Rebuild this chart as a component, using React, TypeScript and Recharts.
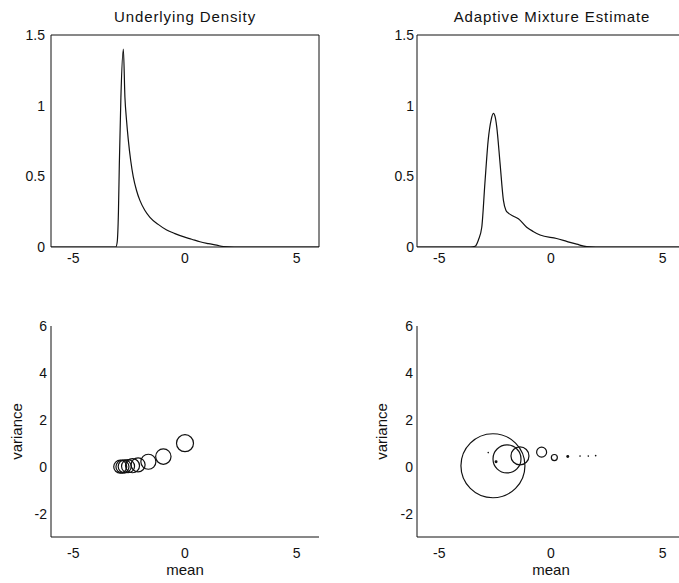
import {
  LineChart,
  Line,
  ScatterChart,
  Scatter,
  XAxis,
  YAxis,
  ZAxis,
  ReferenceArea,
  Label,
} from "recharts";

// curves
const densityX = [-6, -3.1, -3.04, -2.98, -2.94, -2.87, -2.76, -2.69, -2.62, -2.54, -2.43, -2.32, -2.17, -2.02, -1.8, -1.57, -1.2, -0.82, -0.45, -0.08, 0.3, 0.67, 1.05, 1.42, 1.72, 2.2, 6];
const densityY = [0, 0, 0.03, 0.25, 0.59, 1.06, 1.4, 1.06, 0.9, 0.76, 0.61, 0.5, 0.4, 0.33, 0.26, 0.21, 0.16, 0.12, 0.095, 0.073, 0.055, 0.037, 0.024, 0.013, 0.003, 0, 0];

const estimateX = [-6, -3.6, -3.4, -3.25, -3.1, -2.96, -2.81, -2.68, -2.58, -2.5, -2.43, -2.28, -2.13, -2.02, -1.91, -1.7, -1.46, -1.09, -0.8, -0.49, 0.25, 0.7, 1.15, 1.6, 2.0, 6];
const estimateY = [0, 0, 0.005, 0.05, 0.14, 0.45, 0.76, 0.9, 0.945, 0.92, 0.85, 0.59, 0.33, 0.26, 0.24, 0.22, 0.2, 0.14, 0.11, 0.085, 0.06, 0.04, 0.02, 0.002, 0, 0];

// mixture components: mean, variance, weight
const trueMeans = [-2.9, -2.8, -2.7, -2.55, -2.35, -2.1, -1.64, -0.97, 0];
const trueVariances = [0, 0, 0.01, 0.02, 0.04, 0.08, 0.21, 0.43, 1.0];
const trueWeights = [0.088, 0.088, 0.088, 0.088, 0.102, 0.102, 0.117, 0.123, 0.15];

const estMeans = [-2.6, -1.97, -1.39, -0.42, 0.15, 0.75, 1.3, 1.67, 2.0, -2.46, -2.81];
const estVariances = [0.04, 0.33, 0.46, 0.62, 0.39, 0.43, 0.45, 0.45, 0.47, 0.21, 0.6];
const estWeights = [0.75, 0.1436, 0.0593, 0.0183, 0.0066, 0.0016, 0.0005, 0.0005, 0.0005, 0.0016, 0.0003];

const xTicks = [-5, 0, 5];
const densityTicks = [0, 0.5, 1, 1.5];
const varianceTicks = [-2, 0, 2, 4, 6];

const densityData = densityX.map((x, i) => ({ x, y: densityY[i] }));
const estimateData = estimateX.map((x, i) => ({ x, y: estimateY[i] }));
const trueComponents = trueMeans.map((m, i) => ({ mean: m, variance: trueVariances[i], weight: trueWeights[i] }));
const estComponents = estMeans.map((m, i) => ({ mean: m, variance: estVariances[i], weight: estWeights[i] }));

const FONT = '"Liberation Sans", Arial, Helvetica, sans-serif';
const INK = "#111";
const tickStyle = { fontSize: 14, fill: INK, fontFamily: FONT };

function Ring(props: any) {
  const { cx, cy } = props;
  const r = props.width ? props.width / 2 : Math.sqrt((props.size || 0) / Math.PI);
  if (r < 1.6) {
    return <circle cx={cx} cy={cy} r={Math.max(r, 0.8)} fill={INK} stroke="none" />;
  }
  return <circle cx={cx} cy={cy} r={r} fill="none" stroke={INK} strokeWidth={1.2} />;
}

function DensityPanel({ data, left, yAxisWidth, width, tickMargin }: any) {
  return (
    <div style={{ position: "absolute", left, top: 0 }}>
      <LineChart width={width} height={290} data={data} margin={{ top: 35, right: 5, left: 0, bottom: 0 }}>
        <XAxis
          type="number"
          dataKey="x"
          domain={[-6, 6]}
          ticks={xTicks}
          tick={tickStyle}
          tickLine={false}
          tickSize={0}
          tickMargin={6}
          axisLine={false}
          height={43}
          allowDataOverflow
        />
        <YAxis
          type="number"
          domain={[0, 1.5]}
          ticks={densityTicks}
          tick={tickStyle}
          tickLine={false}
          tickSize={0}
          tickMargin={tickMargin}
          axisLine={false}
          width={yAxisWidth}
          allowDataOverflow
        />
        <ReferenceArea x1={-6} x2={6} y1={0} y2={1.5} fill="none" fillOpacity={0} stroke={INK} strokeWidth={1} ifOverflow="extendDomain" />
        <Line type="monotone" dataKey="y" stroke={INK} strokeWidth={1.2} dot={false} isAnimationActive={false} />
      </LineChart>
    </div>
  );
}

function ComponentPanel({ data, left, yAxisWidth, width, labelOffset, zMax, rMax }: any) {
  return (
    <div style={{ position: "absolute", left, top: 290 }}>
      <ScatterChart width={width} height={293} margin={{ top: 36, right: 5, left: 0, bottom: 0 }}>
        <XAxis
          type="number"
          dataKey="mean"
          domain={[-6, 6]}
          ticks={xTicks}
          tick={tickStyle}
          tickLine={false}
          tickSize={0}
          tickMargin={11}
          axisLine={{ stroke: INK }}
          height={46}
          allowDataOverflow
        >
          <Label value="mean" position="insideBottom" offset={8} style={{ fontSize: 15, fill: INK, fontFamily: FONT }} />
        </XAxis>
        <YAxis
          type="number"
          dataKey="variance"
          domain={[-3, 6]}
          ticks={varianceTicks}
          tick={tickStyle}
          tickLine={false}
          tickSize={0}
          tickMargin={4}
          axisLine={{ stroke: INK }}
          width={yAxisWidth}
          allowDataOverflow
        >
          <Label
            value="variance"
            angle={-90}
            position="insideLeft"
            offset={labelOffset}
            style={{ fontSize: 15, fill: INK, fontFamily: FONT, textAnchor: "middle" }}
          />
        </YAxis>
        <ZAxis type="number" dataKey="weight" domain={[0, zMax]} range={[0, Math.PI * rMax * rMax]} />
        <Scatter data={data} shape={Ring} isAnimationActive={false} />
      </ScatterChart>
    </div>
  );
}

const titleStyle: any = {
  position: "absolute",
  top: 8,
  width: 300,
  textAlign: "center",
  fontFamily: FONT,
  fontSize: 15,
  letterSpacing: 0.9,
  color: INK,
};

export default function App() {
  return (
    <div
      style={{
        position: "absolute",
        left: 0,
        top: 0,
        width: 679,
        height: 583,
        overflow: "hidden",
        background: "#fff",
      }}
    >
      <div style={{ ...titleStyle, left: 185 - 150 }}>Underlying Density</div>
      <div style={{ ...titleStyle, left: 552 - 150 }}>Adaptive Mixture Estimate</div>
      <DensityPanel data={densityData} left={0} yAxisWidth={51} width={324} tickMargin={6} />
      <DensityPanel data={estimateData} left={340} yAxisWidth={77} width={350} tickMargin={3} />
      <ComponentPanel data={trueComponents} left={0} yAxisWidth={51} width={324} labelOffset={17} zMax={0.15} rMax={8.5} />
      <ComponentPanel data={estComponents} left={340} yAxisWidth={77} width={350} labelOffset={42} zMax={0.75} rMax={32} />
    </div>
  );
}
